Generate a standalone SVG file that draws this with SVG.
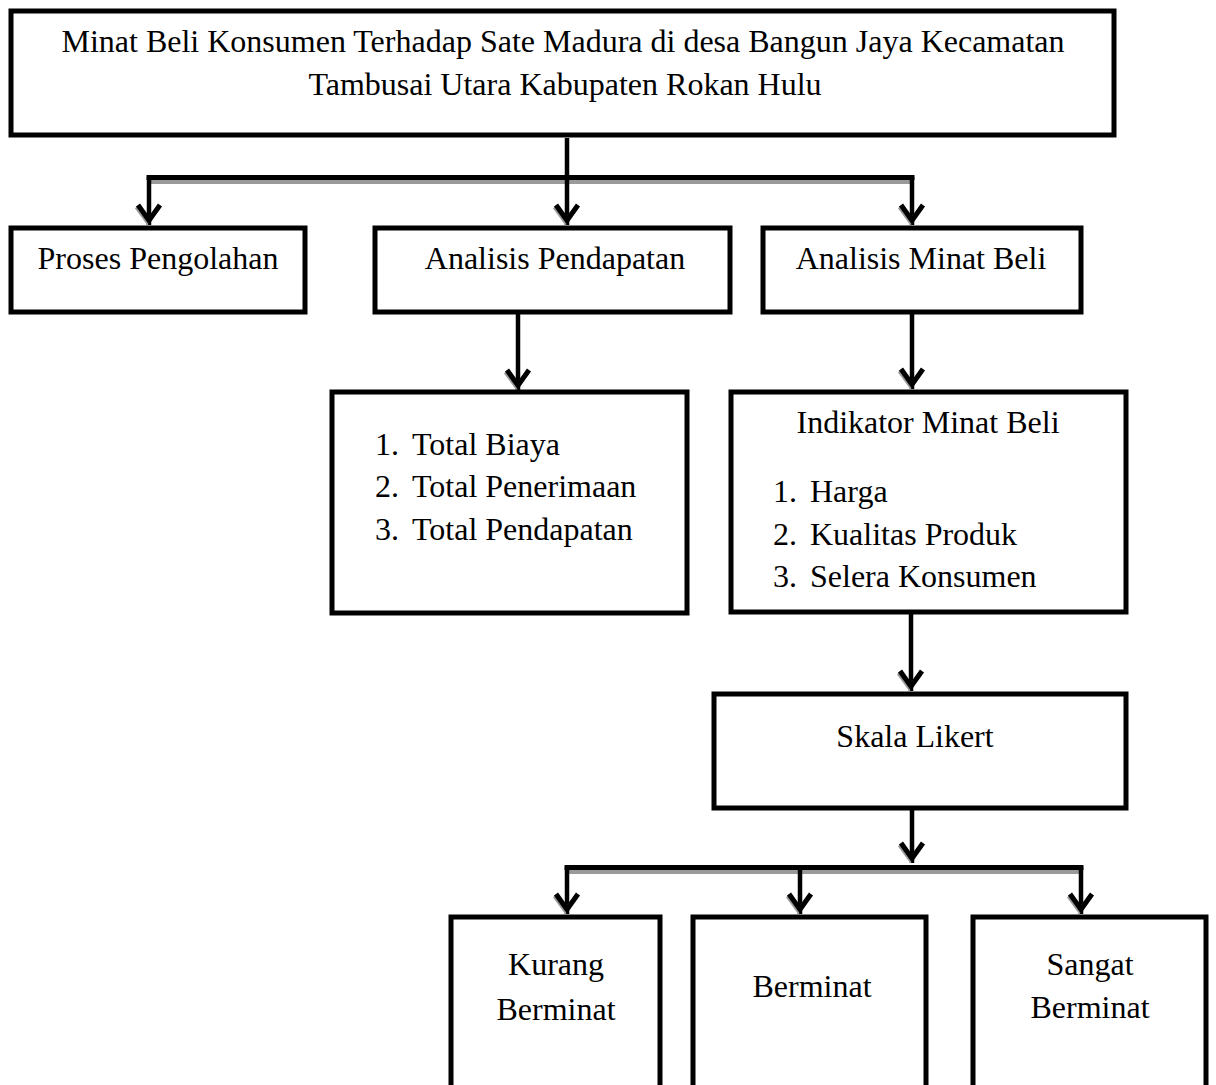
<svg xmlns="http://www.w3.org/2000/svg" width="1216" height="1085" viewBox="0 0 1216 1085">
<style>
  .box { fill: #fff; stroke: #000; stroke-width: 5; }
  .t { font-family: "Liberation Serif", "Times New Roman", serif; font-size: 32px; fill: #000; }
  .c { text-anchor: middle; }
  .ln { fill: none; stroke: #000; stroke-width: 4.5; }
  .bar { fill: none; stroke: #000; stroke-width: 5; }
  .sh { fill: none; stroke: #9a9a9a; stroke-width: 4; }
</style>
<defs>
  <marker id="arr" markerUnits="userSpaceOnUse" markerWidth="40" markerHeight="40" viewBox="-30 -20 40 40" refX="0" refY="0" orient="auto" overflow="visible">
    <path d="M-18,-9.5 L-3,1.5 L-18,12.5" fill="none" stroke="#9a9a9a" stroke-width="4"/>
    <path d="M-20,-11 L-4.5,0 L-20,11" fill="none" stroke="#000" stroke-width="5"/>
  </marker>
</defs>
<rect width="1216" height="1085" fill="#fff"/>

<g id="connectors">
  <line class="sh" x1="151" y1="182" x2="910" y2="182"/>
  <line class="bar" x1="146.5" y1="177.5" x2="914.5" y2="177.5"/>
  <path class="ln" d="M567,138 V225" marker-end="url(#arr)"/>
  <path class="ln" d="M149,177.5 V225" marker-end="url(#arr)"/>
  <path class="ln" d="M912,177.5 V225" marker-end="url(#arr)"/>
  <path class="ln" d="M518,314 V390" marker-end="url(#arr)"/>
  <path class="ln" d="M912,314 V389" marker-end="url(#arr)"/>
  <path class="ln" d="M911,614 V691" marker-end="url(#arr)"/>
  <path class="ln" d="M912,810 V863" marker-end="url(#arr)"/>
  <line class="sh" x1="569" y1="872" x2="1079" y2="872"/>
  <line class="bar" x1="564.5" y1="867.5" x2="1083.5" y2="867.5"/>
  <path class="ln" d="M567,867.5 V914" marker-end="url(#arr)"/>
  <path class="ln" d="M800,867.5 V914" marker-end="url(#arr)"/>
  <path class="ln" d="M1081,867.5 V914" marker-end="url(#arr)"/>
</g>

<g id="node-title">
  <rect class="box" x="11" y="11" width="1103" height="124"/>
  <text class="t c" x="563" y="52">Minat Beli Konsumen Terhadap Sate Madura di desa Bangun Jaya Kecamatan</text>
  <text class="t c" x="565" y="95">Tambusai Utara Kabupaten Rokan Hulu</text>
</g>

<g id="node-proses">
  <rect class="box" x="11" y="228" width="294" height="84"/>
  <text class="t c" x="158" y="269">Proses Pengolahan</text>
</g>

<g id="node-analisis-pendapatan">
  <rect class="box" x="375" y="228" width="355" height="84"/>
  <text class="t c" x="555" y="269">Analisis Pendapatan</text>
</g>

<g id="node-analisis-minat">
  <rect class="box" x="763" y="228" width="318" height="84"/>
  <text class="t c" x="921" y="269">Analisis Minat Beli</text>
</g>

<g id="node-pendapatan-list">
  <rect class="box" x="332" y="392" width="355" height="221"/>
  <text class="t" x="375" y="455">1.</text>
  <text class="t" x="412" y="455">Total Biaya</text>
  <text class="t" x="375" y="497">2.</text>
  <text class="t" x="412" y="497">Total Penerimaan</text>
  <text class="t" x="375" y="540">3.</text>
  <text class="t" x="412" y="540">Total Pendapatan</text>
</g>

<g id="node-indikator">
  <rect class="box" x="731" y="392" width="395" height="220"/>
  <text class="t c" x="928" y="433">Indikator Minat Beli</text>
  <text class="t" x="773" y="502">1.</text>
  <text class="t" x="810" y="502">Harga</text>
  <text class="t" x="773" y="545">2.</text>
  <text class="t" x="810" y="545">Kualitas Produk</text>
  <text class="t" x="773" y="587">3.</text>
  <text class="t" x="810" y="587">Selera Konsumen</text>
</g>

<g id="node-skala">
  <rect class="box" x="714" y="694" width="412" height="114"/>
  <text class="t c" x="915" y="747">Skala Likert</text>
</g>

<g id="node-kurang">
  <rect class="box" x="451" y="917" width="209" height="190"/>
  <text class="t c" x="556" y="975">Kurang</text>
  <text class="t c" x="556" y="1020">Berminat</text>
</g>

<g id="node-berminat">
  <rect class="box" x="693" y="917" width="233" height="190"/>
  <text class="t c" x="812" y="997">Berminat</text>
</g>

<g id="node-sangat">
  <rect class="box" x="973" y="917" width="233" height="190"/>
  <text class="t c" x="1090" y="975">Sangat</text>
  <text class="t c" x="1090" y="1018">Berminat</text>
</g>
</svg>
